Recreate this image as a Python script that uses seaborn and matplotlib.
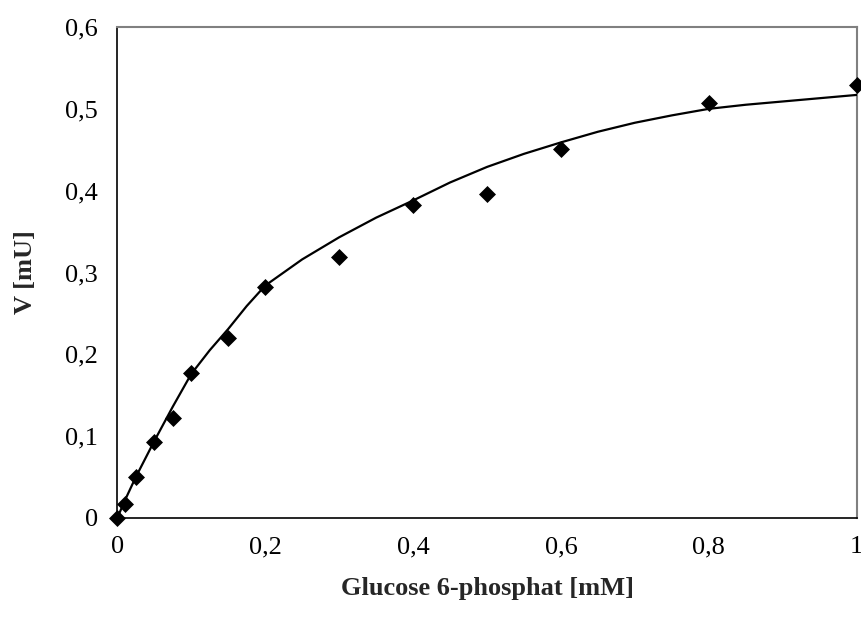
import matplotlib
matplotlib.use("Agg")
import matplotlib.pyplot as plt
import seaborn as sns
import pandas as pd

# measured data points
conc = [0, 0.01, 0.025, 0.05, 0.075, 0.1, 0.15, 0.2, 0.3, 0.4, 0.5, 0.6, 0.8, 1.0]
velocity = [0, 0.017, 0.0505, 0.093, 0.1226, 0.177, 0.220, 0.282, 0.319, 0.383, 0.396, 0.4506, 0.507, 0.5295]

# fitted curve
fit_conc = [0, 0.01, 0.025, 0.05, 0.075, 0.1, 0.125, 0.15, 0.175, 0.2, 0.25, 0.3, 0.35, 0.4,
            0.45, 0.5, 0.55, 0.6, 0.65, 0.7, 0.75, 0.8, 0.85, 0.9, 0.95, 1.0]
fit_vel = [0, 0.021, 0.05, 0.094, 0.136, 0.176, 0.205, 0.231, 0.259, 0.284, 0.316, 0.343, 0.367, 0.388,
           0.410, 0.429, 0.445, 0.459, 0.472, 0.483, 0.492, 0.500, 0.505, 0.509, 0.513, 0.517]

x_ticks = [0, 0.2, 0.4, 0.6, 0.8, 1.0]
x_ticklabels = ["0", "0,2", "0,4", "0,6", "0,8", "1"]
y_ticks = [0, 0.1, 0.2, 0.3, 0.4, 0.5, 0.6]
y_ticklabels = ["0", "0,1", "0,2", "0,3", "0,4", "0,5", "0,6"]

sns.set_style("white")
plt.rcParams['font.family'] = ['Liberation Serif', 'DejaVu Serif']

fig = plt.figure(figsize=(8.61, 6.19), dpi=100)
ax = fig.add_axes([117.3 / 861, 101 / 619, (856.7 - 117.3) / 861, (518 - 27) / 619])

df_pts = pd.DataFrame({"conc": conc, "v": velocity})
df_fit = pd.DataFrame({"conc": fit_conc, "v": fit_vel})

sns.lineplot(data=df_fit, x="conc", y="v", ax=ax, color="black", linewidth=1.6,
             sort=False, estimator=None, zorder=3)
sns.scatterplot(data=df_pts, x="conc", y="v", ax=ax, marker="D", s=75,
                color="black", edgecolor="black", linewidth=0, zorder=5, clip_on=False)

ax.set_xlim(0, 1)
ax.set_ylim(0, 0.6)
ax.set_xticks(x_ticks)
ax.set_xticklabels(x_ticklabels)
ax.set_yticks(y_ticks)
ax.set_yticklabels(y_ticklabels)
ax.tick_params(axis="both", direction="out", length=6, width=1.0, color="black",
               labelsize=19, labelcolor="black")
ax.tick_params(axis="y", pad=8)
ax.tick_params(axis="x", pad=7)

for side in ["left", "bottom"]:
    ax.spines[side].set_color("black")
    ax.spines[side].set_linewidth(1.2)
for side in ["top", "right"]:
    ax.spines[side].set_color("#808080")
    ax.spines[side].set_linewidth(1.5)
    ax.spines[side].set_visible(True)

ax.set_xlabel("Glucose 6-phosphat [mM]", fontsize=19, fontweight="bold", labelpad=14)
ax.set_ylabel("V [mU]", fontsize=19, fontweight="bold", labelpad=20)
ax.grid(False)

fig.savefig("out.png", dpi=100)
